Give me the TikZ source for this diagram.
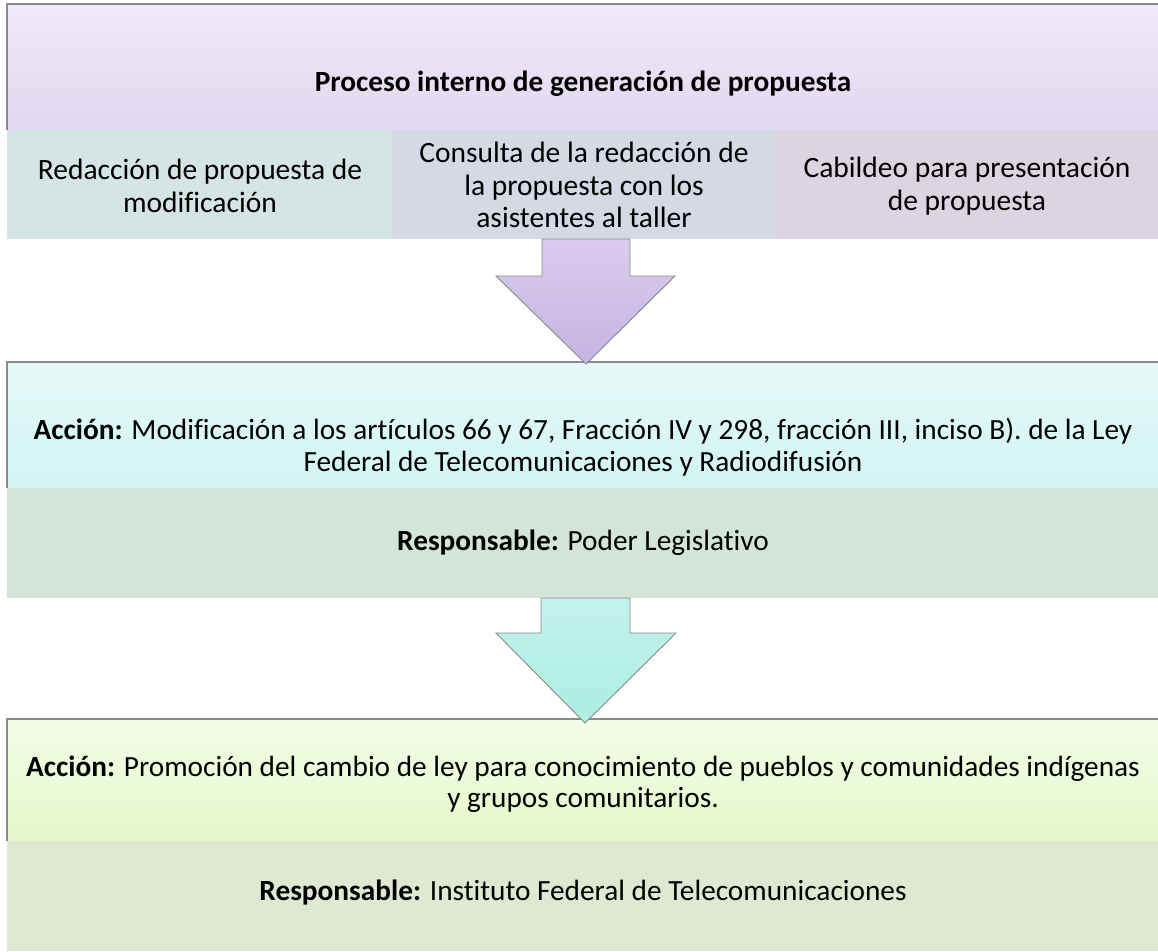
\documentclass[tikz,border=0pt]{standalone}
\usepackage{fontspec}
\setmainfont{Carlito}[Ligatures={NoCommon}]
\definecolor{purpTop}{HTML}{EFE9F8}
\definecolor{purpBot}{HTML}{E2D8F1}
\definecolor{subA}{HTML}{D5E5E3}
\definecolor{subB}{HTML}{D5D9E4}
\definecolor{subC}{HTML}{DCD5E1}
\definecolor{arrAtop}{HTML}{DACCEE}
\definecolor{arrAbot}{HTML}{C5B3E2}
\definecolor{cyanTop}{HTML}{E5F9F8}
\definecolor{cyanBot}{HTML}{D2F5F3}
\definecolor{greenB}{HTML}{D2E5D8}
\definecolor{arrBtop}{HTML}{C3F2EC}
\definecolor{arrBbot}{HTML}{ABEEE4}
\definecolor{limeTop}{HTML}{F3FCE7}
\definecolor{limeBot}{HTML}{E4F9CA}
\definecolor{oliveB}{HTML}{DFE8D1}
\definecolor{edgegray}{HTML}{8A8A8A}
\begin{document}
\begin{tikzpicture}[x=1pt,y=-1pt,
  panel/.style={inner sep=0pt, outer sep=0pt, anchor=north west},
  edgeline/.style={draw=edgegray, line width=1.3pt},
  blockarrow/.style={draw=edgegray, line width=0.9pt, line join=miter},
  subtext/.style={align=center, font=\fontsize{29.5}{32.5}\selectfont},
  bodytext/.style={align=center, font=\fontsize{29.3}{31.5}\selectfont},
  titletext/.style={font=\bfseries\fontsize{29.3}{32}\selectfont}]
\useasboundingbox (0,0) rectangle (1158,951);
\fill[white] (0,0) rectangle (1158,951);

% ---------- block 1 ----------
\node[panel, minimum width=1151pt, minimum height=126pt, top color=purpTop, bottom color=purpBot] (head) at (7,4) {};
\node[panel, minimum width=385pt, minimum height=109pt, fill=subA] (subone) at (7,130) {};
\node[panel, minimum width=384pt, minimum height=109pt, fill=subB] (subtwo) at (392,130) {};
\node[panel, minimum width=382pt, minimum height=109pt, fill=subC] (subthree) at (776,130) {};
\draw[edgeline] (head.south west) -- (head.north west) -- (head.north east);

\node[titletext] (ttl) at (583,84) {Proceso interno de generación de propuesta};
\node[subtext] (t1) at (200,186) {Redacción de propuesta de\\modificación};
\node[subtext] (t2) at (584,185) {Consulta de la redacción de\\la propuesta con los\\asistentes al taller};
\node[subtext] (t3) at (967,186) {Cabildeo para presentación\\de propuesta};

% ---------- block 2 ----------
\node[panel, minimum width=1151pt, minimum height=126pt, top color=cyanTop, bottom color=cyanBot] (acttwo) at (7,362) {};
\node[panel, minimum width=1151pt, minimum height=110pt, fill=greenB] (restwo) at (7,488) {};
\draw[edgeline] (acttwo.south west) -- (acttwo.north west) -- (acttwo.north east);
\node[bodytext] (a2) at (583,447) {\textbf{Acción:} Modificación a los artículos 66 y 67, Fracción IV y 298, fracción III, inciso B). de la Ley\\Federal de Telecomunicaciones y Radiodifusión};
\node[bodytext] (r2) at (583,543) {\textbf{Responsable:} Poder Legislativo};

% ---------- block 3 ----------
\node[panel, minimum width=1151pt, minimum height=122pt, top color=limeTop, bottom color=limeBot] (actthree) at (7,719) {};
\node[panel, minimum width=1151pt, minimum height=110pt, fill=oliveB] (resthree) at (7,841) {};
\draw[edgeline] (actthree.south west) -- (actthree.north west) -- (actthree.north east);
\node[bodytext] (a3) at (583,784) {\textbf{Acción:} Promoción del cambio de ley para conocimiento de pueblos y comunidades indígenas\\y grupos comunitarios.};
\node[bodytext] (r3) at (583,893) {\textbf{Responsable:} Instituto Federal de Telecomunicaciones};

% ---------- block arrows ----------
\draw[blockarrow, top color=arrAtop, bottom color=arrAbot]
  (542,239) -- (630,239) -- (630,276) -- (675,276) -- (586,364) -- (496,276) -- (542,276) -- cycle;
\draw[blockarrow, top color=arrBtop, bottom color=arrBbot]
  (541,598) -- (630,598) -- (630,633) -- (676,633) -- (585,723) -- (496,633) -- (541,633) -- cycle;
\end{tikzpicture}
\end{document}
